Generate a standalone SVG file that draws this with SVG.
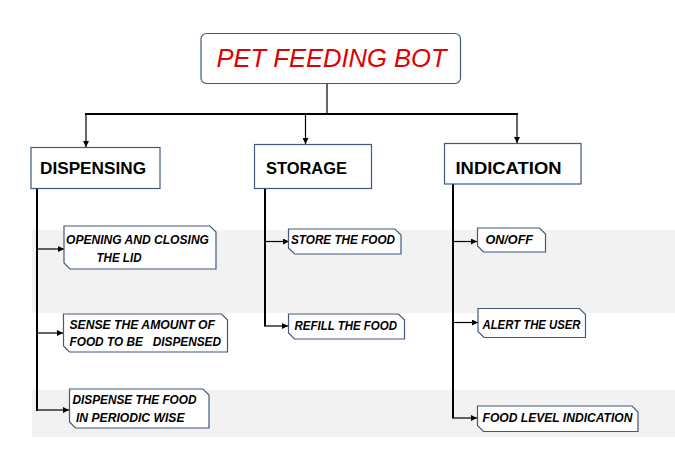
<svg xmlns="http://www.w3.org/2000/svg" width="675" height="470" viewBox="0 0 675 470">
<style>
.bg{fill:#f2f2f2;stroke:none}
.title{fill:#fff;stroke:#41597c;stroke-width:1.2}
.hbox{fill:#fff;stroke:#41597c;stroke-width:1.2}
.leaf{fill:#fff;stroke:#41597c;stroke-width:1.2}
.tt{font-family:"Liberation Sans",Arial,sans-serif;font-style:italic;font-size:26px;fill:#e00000}
.ht{font-family:"Liberation Sans",Arial,sans-serif;font-weight:bold;font-size:17px;fill:#000}
.lt{font-family:"Liberation Sans",Arial,sans-serif;font-weight:bold;font-style:italic;font-size:13px;fill:#000;white-space:pre}
.thick{stroke:#000;stroke-width:2;fill:none}
.thin{stroke:#000;stroke-width:1.2;fill:none}
.arr{stroke:#000;stroke-width:1.2;fill:none;marker-end:url(#ah)}
</style>
<defs>
<marker id="ah" viewBox="0 0 10 10" refX="10" refY="5" markerWidth="7" markerHeight="6" markerUnits="userSpaceOnUse" orient="auto">
<path d="M0,0 L10,5 L0,10 Z" fill="#000"/>
</marker>
</defs>
<rect width="675" height="470" fill="#fff"/>
<g id="bands">
<rect class="bg" x="32" y="230" width="643" height="83"/>
<rect class="bg" x="32" y="390" width="643" height="47"/>
</g>
<g id="connectors">
<line class="thin" x1="327" y1="83" x2="327" y2="114"/>
<line class="thick" x1="85" y1="114" x2="518" y2="114"/>
<line class="arr" x1="86" y1="114" x2="86" y2="147"/>
<line class="arr" x1="305.5" y1="114" x2="305.5" y2="144"/>
<line class="arr" x1="517" y1="114" x2="517" y2="143"/>
<polyline class="thick" points="37,188 37,410 38,410"/>
<line class="arr" x1="37" y1="249" x2="64" y2="249"/>
<line class="arr" x1="37" y1="333" x2="63" y2="333"/>
<line class="arr" x1="37" y1="410" x2="69" y2="410"/>
<line class="thick" x1="265" y1="188" x2="265" y2="326"/>
<line class="arr" x1="265" y1="241.5" x2="289" y2="241.5"/>
<line class="arr" x1="264" y1="326" x2="288" y2="326"/>
<line class="thick" x1="453" y1="184" x2="453" y2="418"/>
<line class="arr" x1="453" y1="241.5" x2="477" y2="241.5"/>
<line class="arr" x1="453" y1="322.5" x2="478" y2="322.5"/>
<line class="arr" x1="452" y1="418" x2="477" y2="418"/>
</g>
<g id="root">
<rect class="title" x="201" y="33.5" width="259.5" height="50" rx="5.5"/>
<text class="tt" x="216.5" y="67" textLength="230" lengthAdjust="spacingAndGlyphs">PET FEEDING BOT</text>
</g>
<g id="dispensing">
<rect class="hbox" x="31" y="147.5" width="129" height="41"/>
<text class="ht" x="40" y="173.5" textLength="106" lengthAdjust="spacingAndGlyphs">DISPENSING</text>
</g>
<g id="storage">
<rect class="hbox" x="254.5" y="144.5" width="117" height="44"/>
<text class="ht" x="266" y="173.5" textLength="81" lengthAdjust="spacingAndGlyphs">STORAGE</text>
</g>
<g id="indication">
<rect class="hbox" x="444.5" y="143.5" width="136.5" height="40.5"/>
<text class="ht" x="455.5" y="173.5" textLength="106" lengthAdjust="spacingAndGlyphs">INDICATION</text>
</g>
<g id="opening">
<path class="leaf" d="M64,226 H210 L216,232 V269 H70 L64,263 Z"/>
<text class="lt" x="66" y="243.5" textLength="143" lengthAdjust="spacingAndGlyphs">OPENING AND CLOSING</text>
<text class="lt" x="96.5" y="261.5" textLength="45" lengthAdjust="spacingAndGlyphs">THE LID</text>
</g>
<g id="sense">
<path class="leaf" d="M63.5,314 H221.5 L227.5,320 V352 H69.5 L63.5,346 Z"/>
<text class="lt" x="69.5" y="328.5" textLength="145.5" lengthAdjust="spacingAndGlyphs">SENSE THE AMOUNT OF</text>
<text class="lt" x="69.5" y="346" textLength="151.5" lengthAdjust="spacingAndGlyphs" xml:space="preserve">FOOD TO BE   DISPENSED</text>
</g>
<g id="dispense">
<path class="leaf" d="M69.5,389 H203 L209,395 V428 H75.5 L69.5,422 Z"/>
<text class="lt" x="72.5" y="404" textLength="124" lengthAdjust="spacingAndGlyphs">DISPENSE THE FOOD</text>
<text class="lt" x="76" y="421.5" textLength="108.5" lengthAdjust="spacingAndGlyphs">IN PERIODIC WISE</text>
</g>
<g id="store">
<path class="leaf" d="M288.5,229 H395 L401,235 V254 H294.5 L288.5,248 Z"/>
<text class="lt" x="291" y="243.5" textLength="104" lengthAdjust="spacingAndGlyphs">STORE THE FOOD</text>
</g>
<g id="refill">
<path class="leaf" d="M288.5,314 H398.5 L404.5,320 V339 H294.5 L288.5,333 Z"/>
<text class="lt" x="294.5" y="329.5" textLength="102.5" lengthAdjust="spacingAndGlyphs">REFILL THE FOOD</text>
</g>
<g id="onoff">
<path class="leaf" d="M477.5,228 H539.5 L545.5,234 V252 H483.5 L477.5,246 Z"/>
<text class="lt" x="485.5" y="243.5" textLength="47.5" lengthAdjust="spacingAndGlyphs">ON/OFF</text>
</g>
<g id="alert">
<path class="leaf" d="M478,308.5 H579.5 L585.5,314.5 V337.5 H484 L478,331.5 Z"/>
<text class="lt" x="482.5" y="328.5" textLength="98" lengthAdjust="spacingAndGlyphs">ALERT THE USER</text>
</g>
<g id="foodlevel">
<path class="leaf" d="M477.5,406 H632 L638,412 V431.5 H483.5 L477.5,425.5 Z"/>
<text class="lt" x="482.5" y="422" textLength="150" lengthAdjust="spacingAndGlyphs">FOOD LEVEL INDICATION</text>
</g>
</svg>
